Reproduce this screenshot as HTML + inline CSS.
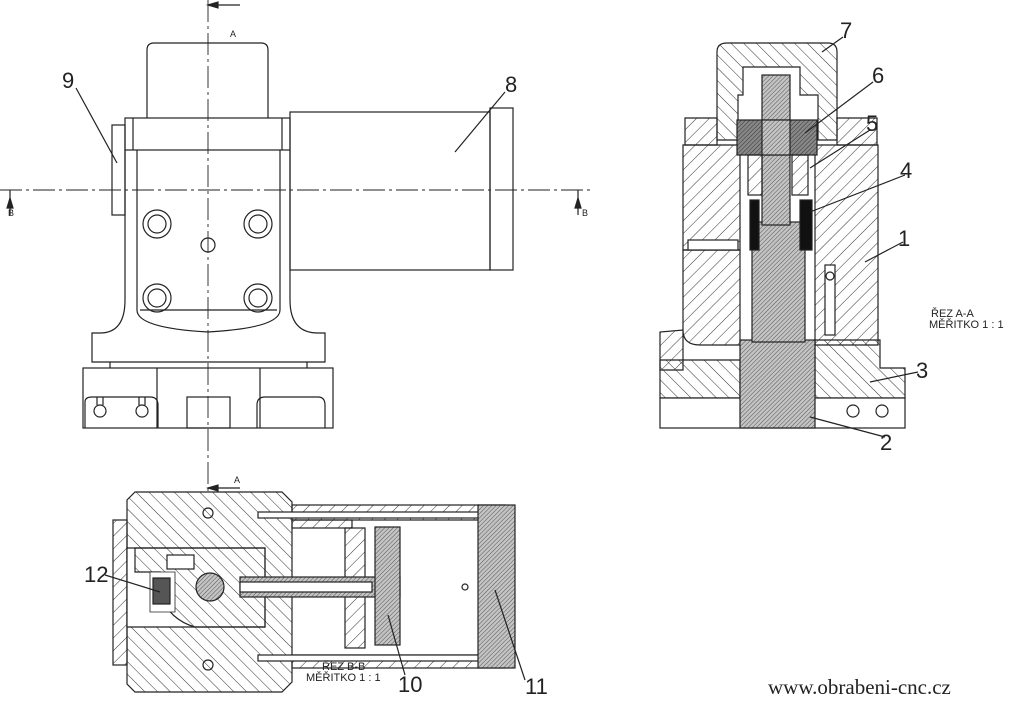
<!DOCTYPE html>
<html><head><meta charset="utf-8"><style>
html,body{margin:0;padding:0;background:#fff;}
svg{display:block}
text{font-family:"Liberation Sans",sans-serif;fill:#222}
</style></head><body>
<svg width="1024" height="727" viewBox="0 0 1024 727" xmlns="http://www.w3.org/2000/svg">
<defs>
<pattern id="h1" width="9" height="9" patternUnits="userSpaceOnUse" patternTransform="rotate(45)"><line x1="0" y1="0" x2="0" y2="9" stroke="#333" stroke-width="1"/></pattern>
<pattern id="h2" width="9" height="9" patternUnits="userSpaceOnUse" patternTransform="rotate(-45)"><line x1="0" y1="0" x2="0" y2="9" stroke="#333" stroke-width="1"/></pattern>
<pattern id="hf" width="3" height="3" patternUnits="userSpaceOnUse" patternTransform="rotate(45)"><rect width="3" height="3" fill="#c4c4c4"/><line x1="0" y1="0" x2="0" y2="3" stroke="#555" stroke-width="1"/></pattern>
<pattern id="hd" width="3" height="3" patternUnits="userSpaceOnUse" patternTransform="rotate(45)"><rect width="3" height="3" fill="#888"/><line x1="0" y1="0" x2="0" y2="3" stroke="#333" stroke-width="1"/></pattern>
</defs>
<g fill="none" stroke="#222" stroke-width="1.2">
<path d="M147,118 V50 Q147,43 154,43 H261 Q268,43 268,50 V118"/>
<rect x="125" y="118" width="165" height="32"/>
<line x1="133" y1="118" x2="133" y2="150"/><line x1="282" y1="118" x2="282" y2="150"/>
<rect x="112" y="125" width="13" height="90"/>
<path d="M125,150 V300 Q125,333 100,333 H92 V362 H325 V333 H318 Q290,333 290,300 V150"/>
<path d="M137,150 V310 Q137,328 208,332 Q280,328 280,310 V150"/>
<line x1="140" y1="310" x2="277" y2="310"/>
<line x1="110" y1="362" x2="110" y2="368"/><line x1="307" y1="362" x2="307" y2="368"/>
<rect x="83" y="368" width="250" height="60"/>
<line x1="157" y1="368" x2="157" y2="428"/><line x1="260" y1="368" x2="260" y2="428"/>
<path d="M85,428 V402 Q85,397 92,397 H150 Q158,397 158,405 V428"/>
<path d="M257,428 V405 Q257,397 265,397 H318 Q325,397 325,405 V428"/>
<rect x="187" y="397" width="43" height="31"/>
<circle cx="100" cy="411" r="6"/><circle cx="142" cy="411" r="6"/>
<line x1="97" y1="397" x2="97" y2="405"/><line x1="103" y1="397" x2="103" y2="405"/>
<line x1="139" y1="397" x2="139" y2="405"/><line x1="145" y1="397" x2="145" y2="405"/>
<circle cx="157" cy="224" r="14"/><circle cx="157" cy="224" r="9"/>
<circle cx="258" cy="224" r="14"/><circle cx="258" cy="224" r="9"/>
<circle cx="157" cy="298" r="14"/><circle cx="157" cy="298" r="9"/>
<circle cx="258" cy="298" r="14"/><circle cx="258" cy="298" r="9"/>
<circle cx="208" cy="245" r="7"/>
<rect x="290" y="112" width="200" height="158"/>
<rect x="490" y="108" width="23" height="162"/>
<line x1="208" y1="0" x2="208" y2="495" stroke-dasharray="22,4,3,4" stroke-width="0.9"/>
<line x1="0" y1="190" x2="590" y2="190" stroke-dasharray="22,4,3,4" stroke-width="0.9"/>
<line x1="208" y1="5" x2="240" y2="5"/><path d="M208,5 l10,-3 v6z" fill="#222"/>
<line x1="208" y1="488" x2="240" y2="488"/><path d="M208,488 l10,-3 v6z" fill="#222"/>
<line x1="10" y1="190" x2="10" y2="215"/><path d="M10,198 l-3,10 h6z" fill="#222"/>
<line x1="578" y1="190" x2="578" y2="215"/><path d="M578,198 l-3,10 h6z" fill="#222"/>
<line x1="76" y1="88" x2="117" y2="163"/><line x1="505" y1="92" x2="455" y2="152"/>
</g>
<g stroke="#222" stroke-width="1.2">
<path d="M717,140 V52 Q717,43 727,43 H828 Q837,43 837,52 V140 H818 V95 H800 V67 H743 V95 H738 V140Z" fill="url(#h2)"/>
<path d="M685,118 H717 V145 H685Z M837,118 H877 V145 H837Z" fill="url(#h1)"/>
<path d="M683,145 H740 V250 H683Z" fill="url(#h1)"/>
<path d="M815,145 H878 V345 H815Z" fill="url(#h1)"/>
<path d="M683,250 H740 V345 H700 Q683,345 683,330 V330 L660,332 V370 H683Z" fill="url(#h1)"/>
<path d="M660,360 H740 V398 H660Z" fill="url(#h2)"/>
<path d="M815,340 H880 V368 H905 V398 H815Z" fill="url(#h2)"/>
<rect x="660" y="398" width="245" height="30" fill="#fff"/>
<rect x="740" y="340" width="75" height="88" fill="url(#hf)"/>
<rect x="752" y="222" width="53" height="120" fill="url(#hf)"/>
<rect x="762" y="75" width="28" height="150" fill="url(#hf)"/>
<rect x="737" y="120" width="80" height="35" fill="url(#hd)"/>
<rect x="762" y="120" width="28" height="35" fill="url(#hf)"/>
<rect x="748" y="155" width="14" height="40" fill="url(#h1)"/><rect x="792" y="155" width="16" height="40" fill="url(#h1)"/>
<rect x="750" y="200" width="9" height="50" fill="#111"/><rect x="800" y="200" width="12" height="50" fill="#111"/>
<rect x="688" y="240" width="50" height="10" fill="#fff"/>
<rect x="825" y="265" width="10" height="70" fill="#fff"/>
<circle cx="830" cy="276" r="4" fill="#fff"/>
<circle cx="853" cy="411" r="6" fill="none"/><circle cx="882" cy="411" r="6" fill="none"/>
<g fill="none"><line x1="843" y1="37" x2="822" y2="52"/><line x1="873" y1="82" x2="805" y2="133"/><line x1="870" y1="130" x2="810" y2="168"/><line x1="905" y1="175" x2="810" y2="212"/><line x1="903" y1="242" x2="865" y2="262"/><line x1="918" y1="372" x2="870" y2="382"/><line x1="885" y1="437" x2="810" y2="417"/></g>
</g>
<g stroke="#222" stroke-width="1.2">
<rect x="113" y="520" width="14" height="145" fill="url(#h1)"/>
<path d="M135,492 H282 L292,502 V682 L282,692 H135 L127,684 V500Z" fill="url(#h2)"/>
<path d="M127,548 H265 V627 H127Z" fill="#fff"/>
<path d="M135,548 H265 V627 H195 Q170,620 160,595 V572 H135Z" fill="url(#h2)"/>
<path d="M150,572 H175 V612 H150Z" fill="#fff" stroke-width="0.8"/>
<rect x="153" y="578" width="17" height="26" fill="#555"/>
<rect x="167" y="555" width="27" height="14" fill="#fff"/>
<circle cx="210" cy="587" r="14" fill="url(#hf)"/>
<rect x="292" y="505" width="213" height="15" fill="url(#h1)"/>
<rect x="292" y="655" width="213" height="13" fill="url(#h1)"/>
<rect x="258" y="512" width="232" height="6" fill="#fff"/>
<rect x="258" y="655" width="232" height="6" fill="#fff"/>
<rect x="292" y="520" width="60" height="8" fill="url(#h1)"/>
<rect x="345" y="528" width="20" height="120" fill="url(#h1)"/>
<rect x="240" y="577" width="160" height="20" fill="url(#hf)"/>
<rect x="240" y="582" width="132" height="10" fill="#fff"/>
<rect x="375" y="527" width="25" height="118" fill="url(#hf)"/>
<rect x="478" y="505" width="37" height="163" fill="url(#hf)"/>
<circle cx="465" cy="587" r="3" fill="none"/>
<circle cx="208" cy="513" r="5" fill="none"/><circle cx="208" cy="665" r="5" fill="none"/>
<g fill="none"><line x1="105" y1="575" x2="160" y2="592"/><line x1="405" y1="675" x2="388" y2="615"/><line x1="525" y1="680" x2="495" y2="590"/></g>
</g>
<g font-size="22">
<text x="62" y="88">9</text><text x="505" y="92">8</text>
<text x="840" y="38">7</text><text x="872" y="83">6</text><text x="866" y="131">5</text>
<text x="900" y="178">4</text><text x="898" y="246">1</text><text x="916" y="378">3</text><text x="880" y="450">2</text>
<text x="84" y="582">12</text><text x="398" y="692">10</text><text x="525" y="694">11</text>
</g>
<g font-size="9">
<text x="230" y="37">A</text><text x="234" y="483">A</text>
<text x="8" y="216">B</text><text x="582" y="216">B</text>
</g>
<g font-size="11">
<text x="931" y="317">ŘEZ A-A</text><text x="929" y="328">MĚŘITKO 1 : 1</text>
<text x="322" y="670">ŘEZ B-B</text><text x="306" y="681">MĚŘITKO 1 : 1</text>
</g>
<text x="768" y="694" font-size="21" style="font-family:'Liberation Serif',serif">www.obrabeni-cnc.cz</text>
</svg>
</body></html>
